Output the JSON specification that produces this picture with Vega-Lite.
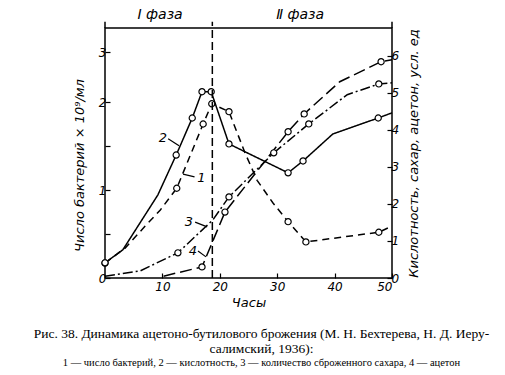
{
  "$schema": "https://vega.github.io/schema/vega-lite/v6.json",
  "width": 287,
  "height": 250,
  "autosize": "none",
  "padding": {"left": 105, "top": 28, "right": 113, "bottom": 97},
  "background": "white",
  "config": {
    "view": {"stroke": "black", "strokeWidth": 1.5},
    "axis": {
      "domain": false, "grid": false, "tickColor": "black", "tickSize": -5, "tickWidth": 1.2,
      "labelFont": "DejaVu Sans", "labelFontStyle": "italic", "labelFontSize": 12, "labelColor": "black",
      "titleFont": "DejaVu Sans", "titleFontStyle": "italic", "titleFontWeight": "normal", "titleFontSize": 13, "titleColor": "black"
    }
  },
  "title": {
    "text": ["Рис. 38. Динамика ацетоно-бутилового брожения (М. Н. Бехтерева, Н. Д. Иеру-", "салимский, 1936):"],
    "subtitle": "1 — число бактерий, 2 — кислотность, 3 — количество сброженного сахара, 4 — ацетон",
    "orient": "bottom", "anchor": "middle", "frame": "group", "dx": 13, "offset": 18,
    "font": "Liberation Serif", "fontSize": 13.5, "fontWeight": "normal", "lineHeight": 15, "color": "black",
    "subtitleFont": "Liberation Serif", "subtitleFontSize": 10.5, "subtitleColor": "black", "subtitlePadding": 2
  },
  "datasets": {
    "bact": [
      {"hour": 0, "bacteria": 0.17, "obs": true},
      {"hour": 3.5, "bacteria": 0.34, "obs": false},
      {"hour": 7.0, "bacteria": 0.59, "obs": false},
      {"hour": 9.6, "bacteria": 0.77, "obs": false},
      {"hour": 12.5, "bacteria": 1.02, "obs": true},
      {"hour": 17.1, "bacteria": 1.75, "obs": true},
      {"hour": 18.6, "bacteria": 1.98, "obs": true},
      {"hour": 21.6, "bacteria": 1.89, "obs": true},
      {"hour": 24.4, "bacteria": 1.42, "obs": false},
      {"hour": 26.5, "bacteria": 1.11, "obs": false},
      {"hour": 29.3, "bacteria": 0.85, "obs": false},
      {"hour": 31.9, "bacteria": 0.64, "obs": true},
      {"hour": 35.0, "bacteria": 0.41, "obs": true},
      {"hour": 47.7, "bacteria": 0.52, "obs": true},
      {"hour": 50, "bacteria": 0.59, "obs": false}
    ],
    "bactLabel": [{"label": "1", "hour": 16.8, "bacteria": 1.14, "hour2": 13.6, "bacteria2": 1.18, "hourA": 15.6, "bacteriaA": 1.15}],
    "curves": [
      {"series": "2", "hour": 0, "value": 0.41, "obs": true},
      {"series": "2", "hour": 3.1, "value": 0.76, "obs": false},
      {"series": "2", "hour": 9.2, "value": 2.24, "obs": false},
      {"series": "2", "hour": 12.4, "value": 3.32, "obs": true},
      {"series": "2", "hour": 15.2, "value": 4.32, "obs": true},
      {"series": "2", "hour": 16.9, "value": 5.03, "obs": true},
      {"series": "2", "hour": 18.5, "value": 5.03, "obs": true},
      {"series": "2", "hour": 21.6, "value": 3.62, "obs": true},
      {"series": "2", "hour": 31.9, "value": 2.84, "obs": true},
      {"series": "2", "hour": 34.5, "value": 3.16, "obs": true},
      {"series": "2", "hour": 39.7, "value": 3.89, "obs": false},
      {"series": "2", "hour": 47.6, "value": 4.32, "obs": true},
      {"series": "2", "hour": 50, "value": 4.46, "obs": false},
      {"series": "3", "hour": 0, "value": 0.05, "obs": false},
      {"series": "3", "hour": 6.1, "value": 0.19, "obs": false},
      {"series": "3", "hour": 12.7, "value": 0.68, "obs": true},
      {"series": "3", "hour": 18.8, "value": 1.57, "obs": false},
      {"series": "3", "hour": 21.6, "value": 2.19, "obs": true},
      {"series": "3", "hour": 29.4, "value": 3.38, "obs": true},
      {"series": "3", "hour": 35.5, "value": 4.16, "obs": true},
      {"series": "3", "hour": 42.2, "value": 4.95, "obs": false},
      {"series": "3", "hour": 47.7, "value": 5.24, "obs": true},
      {"series": "3", "hour": 50, "value": 5.27, "obs": false},
      {"series": "4", "hour": 10.2, "value": 0.05, "obs": false},
      {"series": "4", "hour": 16.9, "value": 0.30, "obs": true},
      {"series": "4", "hour": 20.9, "value": 1.78, "obs": true},
      {"series": "4", "hour": 31.9, "value": 3.95, "obs": true},
      {"series": "4", "hour": 34.7, "value": 4.43, "obs": true},
      {"series": "4", "hour": 40.9, "value": 5.3, "obs": false},
      {"series": "4", "hour": 48.1, "value": 5.84, "obs": true},
      {"series": "4", "hour": 50, "value": 5.89, "obs": false}
    ],
    "curveLabels": [
      {"label": "2", "hour": 10.1, "value": 3.78, "hour2": 11.0, "value2": 3.76, "hourA": 12.9, "valueA": 3.57},
      {"label": "3", "hour": 14.6, "value": 1.51, "hour2": 15.7, "value2": 1.51, "hourA": 17.8, "valueA": 1.38},
      {"label": "4", "hour": 15.3, "value": 0.73, "hour2": 16.2, "value2": 0.73, "hourA": 17.6, "valueA": 0.57}
    ],
    "phases": [
      {"phase": "Ⅰ фаза", "hour": 9.6, "value": 7.1},
      {"phase": "Ⅱ фаза", "hour": 34.0, "value": 7.1}
    ],
    "phaseTicks": [{"hour": 0, "value": 6.75, "value2": 6.92}, {"hour": 50, "value": 6.75, "value2": 6.92}],
    "boundary": [{"hour": 18.7, "value": 0, "value2": 6.92}]
  },
  "layer": [
    {
      "layer": [
        {
          "data": {"name": "bact"},
          "mark": {"type": "line", "color": "black", "strokeWidth": 1.5, "strokeDash": [7, 5]},
          "encoding": {
            "x": {"field": "hour", "type": "quantitative", "scale": {"domain": [0, 50], "nice": false},
              "axis": {"values": [10, 20, 30, 40, 50], "title": "Часы", "labelPadding": 8, "titlePadding": 4}},
            "y": {"field": "bacteria", "type": "quantitative",
              "scale": {"domain": [0, 2, 3], "range": [250, 74, 24]},
              "axis": {"orient": "left", "values": [0, 0.5, 1, 1.5, 2, 3], "labelExpr": "datum.value % 1 == 0 ? format(datum.value, 'd') : ''",
                "title": "Число бактерий × 10⁹/мл", "titlePadding": 12, "labelPadding": 4}}
          }
        },
        {
          "data": {"name": "bact"},
          "transform": [{"filter": "datum.obs"}],
          "mark": {"type": "point", "shape": "circle", "filled": true, "fill": "white", "stroke": "black", "strokeWidth": 1.2, "size": 38, "opacity": 1},
          "encoding": {
            "x": {"field": "hour", "type": "quantitative"},
            "y": {"field": "bacteria", "type": "quantitative"}
          }
        },
        {
          "data": {"name": "bactLabel"},
          "mark": {"type": "rule", "color": "black", "strokeWidth": 1.2},
          "encoding": {
            "x": {"field": "hour2", "type": "quantitative"},
            "y": {"field": "bacteria2", "type": "quantitative"},
            "x2": {"field": "hourA"},
            "y2": {"field": "bacteriaA"}
          }
        },
        {
          "data": {"name": "bactLabel"},
          "mark": {"type": "text", "font": "DejaVu Sans", "fontStyle": "italic", "fontSize": 13, "color": "black"},
          "encoding": {
            "x": {"field": "hour", "type": "quantitative"},
            "y": {"field": "bacteria", "type": "quantitative"},
            "text": {"field": "label"}
          }
        }
      ]
    },
    {
      "layer": [
        {
          "data": {"name": "curves"},
          "mark": {"type": "line", "color": "black", "strokeWidth": 1.5},
          "encoding": {
            "x": {"field": "hour", "type": "quantitative"},
            "y": {"field": "value", "type": "quantitative",
              "scale": {"domain": [0, 6.75], "nice": false},
              "axis": {"orient": "right", "values": [0, 1, 2, 3, 4, 5, 6], "title": "Кислотность, сахар, ацетон, усл. ед",
                "titleAngle": 270, "titleBaseline": "top", "titlePadding": 9, "labelPadding": 4}},
            "detail": {"field": "series"},
            "strokeDash": {"field": "series", "type": "nominal",
              "scale": {"domain": ["2", "3", "4"], "range": [[1, 0], [10, 3, 2, 3], [12, 5]]}, "legend": null}
          }
        },
        {
          "data": {"name": "curves"},
          "transform": [{"filter": "datum.obs"}],
          "mark": {"type": "point", "shape": "circle", "filled": true, "fill": "white", "stroke": "black", "strokeWidth": 1.2, "size": 38, "opacity": 1},
          "encoding": {
            "x": {"field": "hour", "type": "quantitative"},
            "y": {"field": "value", "type": "quantitative"}
          }
        },
        {
          "data": {"name": "curveLabels"},
          "mark": {"type": "rule", "color": "black", "strokeWidth": 1.2},
          "encoding": {
            "x": {"field": "hour2", "type": "quantitative"},
            "y": {"field": "value2", "type": "quantitative"},
            "x2": {"field": "hourA"},
            "y2": {"field": "valueA"}
          }
        },
        {
          "data": {"name": "curveLabels"},
          "mark": {"type": "text", "font": "DejaVu Sans", "fontStyle": "italic", "fontSize": 13, "color": "black"},
          "encoding": {
            "x": {"field": "hour", "type": "quantitative"},
            "y": {"field": "value", "type": "quantitative"},
            "text": {"field": "label"}
          }
        },
        {
          "data": {"name": "boundary"},
          "mark": {"type": "rule", "color": "black", "strokeWidth": 1.5, "strokeDash": [8, 4]},
          "encoding": {
            "x": {"field": "hour", "type": "quantitative"},
            "y": {"field": "value", "type": "quantitative"},
            "y2": {"field": "value2"}
          }
        },
        {
          "data": {"name": "phaseTicks"},
          "mark": {"type": "rule", "color": "black", "strokeWidth": 1.5},
          "encoding": {
            "x": {"field": "hour", "type": "quantitative"},
            "y": {"field": "value", "type": "quantitative"},
            "y2": {"field": "value2"}
          }
        },
        {
          "data": {"name": "phases"},
          "mark": {"type": "text", "font": "DejaVu Sans", "fontStyle": "italic", "fontSize": 14, "color": "black"},
          "encoding": {
            "x": {"field": "hour", "type": "quantitative"},
            "y": {"field": "value", "type": "quantitative"},
            "text": {"field": "phase"}
          }
        }
      ]
    }
  ],
  "resolve": {"scale": {"y": "independent"}}
}
